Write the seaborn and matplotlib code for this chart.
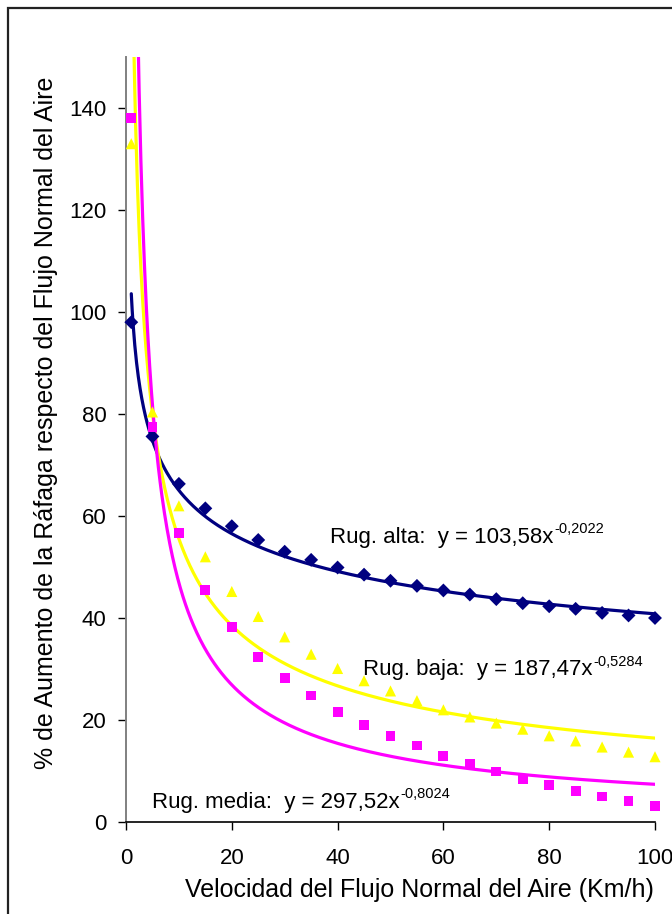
import numpy as np
import pandas as pd
import matplotlib
matplotlib.use("Agg")
import matplotlib.pyplot as plt
from matplotlib.patches import Rectangle
import seaborn as sns

# ---- data ----
velocidad = [1, 5, 10, 15, 20, 25, 30, 35, 40, 45, 50, 55, 60, 65, 70, 75, 80, 85, 90, 95, 100]
rug_alta = [98.0, 75.6, 66.3, 61.5, 58.0, 55.3, 53.0, 51.4, 49.9, 48.5, 47.3, 46.3, 45.4, 44.6, 43.7,
            42.9, 42.3, 41.8, 41.0, 40.5, 40.0]
rug_baja = [133.0, 80.4, 62.0, 52.0, 45.2, 40.3, 36.3, 32.9, 30.1, 27.7, 25.7, 23.8, 22.0, 20.6, 19.4,
            18.2, 16.9, 15.9, 14.7, 13.7, 12.8]
rug_media = [138.0, 77.5, 56.6, 45.5, 38.2, 32.4, 28.2, 24.8, 21.6, 19.1, 16.9, 15.0, 13.0, 11.4, 9.9,
             8.5, 7.3, 6.1, 5.0, 4.1, 3.1]

# power-law trendline coefficients shown on the chart: y = a * x^b
series_names = ["Rug. alta", "Rug. baja", "Rug. media"]
coef_a = [103.58, 187.47, 297.52]
coef_b = [-0.2022, -0.5284, -0.8024]
coef_a_txt = ["103,58", "187,47", "297,52"]
coef_b_txt = ["-0,2022", "-0,5284", "-0,8024"]

x_ticks = [0, 20, 40, 60, 80, 100]
y_ticks = [0, 20, 40, 60, 80, 100, 120, 140]

colors = ["#000080", "#FFFF00", "#FF00FF"]
markers = ["D", "^", "s"]
sizes = [50, 64, 50]

sns.set_theme(style="ticks")
plt.rcParams.update({
    "font.family": ["Liberation Sans", "DejaVu Sans"],
    "text.color": "black",
    "axes.labelcolor": "black",
    "xtick.color": "black",
    "ytick.color": "black",
    "xtick.bottom": True,
    "ytick.left": True,
    "xtick.direction": "out",
    "ytick.direction": "out",
    "xtick.major.size": 6,
    "ytick.major.size": 6,
    "xtick.major.width": 1.0,
    "ytick.major.width": 1.0,
    "xtick.major.pad": 13,
    "ytick.major.pad": 8,
    "xtick.labelsize": 16,
    "ytick.labelsize": 16,
})

fig = plt.figure(figsize=(6.72, 9.14), dpi=100)
ax = fig.add_axes([126 / 672, 1 - 822 / 914, 529 / 672, (822 - 57) / 914])

df = pd.DataFrame({"x": velocidad * 3,
                   "y": rug_alta + rug_baja + rug_media,
                   "serie": sum([[n] * len(velocidad) for n in series_names], [])})

# trendlines (power law, from the displayed coefficients)
xfit = np.linspace(1, 100, 600)
for name, a, b, c in zip(series_names, coef_a, coef_b, colors):
    sns.lineplot(x=xfit, y=a * xfit ** b, ax=ax, color=c, lw=2.3, zorder=2)

# measured points
for name, c, m, s in zip(series_names, colors, markers, sizes):
    sub = df[df["serie"] == name]
    sns.scatterplot(data=sub, x="x", y="y", ax=ax, color=c, marker=m, s=s,
                    edgecolor="none", linewidth=0, zorder=3, clip_on=False)

ax.set_xlim(0, 100)
ax.set_ylim(0, 150)
ax.set_xticks(x_ticks)
ax.set_yticks(y_ticks)
ax.xaxis.set_tick_params(which="major", length=6, width=1.0, pad=13, color="black")
ax.yaxis.set_tick_params(which="major", length=6, width=1.0, pad=8, color="black")

for sp in ["top", "right"]:
    ax.spines[sp].set_visible(False)
ax.spines["left"].set_color("#808080")
ax.spines["left"].set_linewidth(1.4)
ax.spines["bottom"].set_color("black")
ax.spines["bottom"].set_linewidth(1.2)

ax.set_xlabel("Velocidad del Flujo Normal del Aire (Km/h)", fontsize=18, color="black")
ax.set_ylabel("% de Aumento de la Ráfaga respecto del Flujo Normal del Aire", fontsize=18, color="black")
ax.xaxis.set_label_coords(0.554, -0.073)
ax.yaxis.set_label_coords(-0.1285, 0.522)

# equation labels
label_pos = [(38.6, 54.7), (44.8, 28.8), (4.9, 2.75)]
for name, at, bt, (px, py) in zip(series_names, coef_a_txt, coef_b_txt, label_pos):
    t = ax.text(px, py, f"{name}:  y = {at}x", fontsize=16, ha="left", va="baseline",
                color="black", zorder=4)
    ax.annotate(bt, xy=(1, 0), xycoords=t, xytext=(0.5, 10.5), textcoords="offset points",
                fontsize=10.5, ha="left", va="baseline", color="black", zorder=4)

# chart-area border (cropped at right and bottom)
fig.patches.append(Rectangle((7.5 / 672, -0.2), 1.5, 1 - 8.5 / 914 + 0.2, transform=fig.transFigure,
                             fill=False, edgecolor="#222222", linewidth=1.6))

fig.savefig("out.png", dpi=100)
